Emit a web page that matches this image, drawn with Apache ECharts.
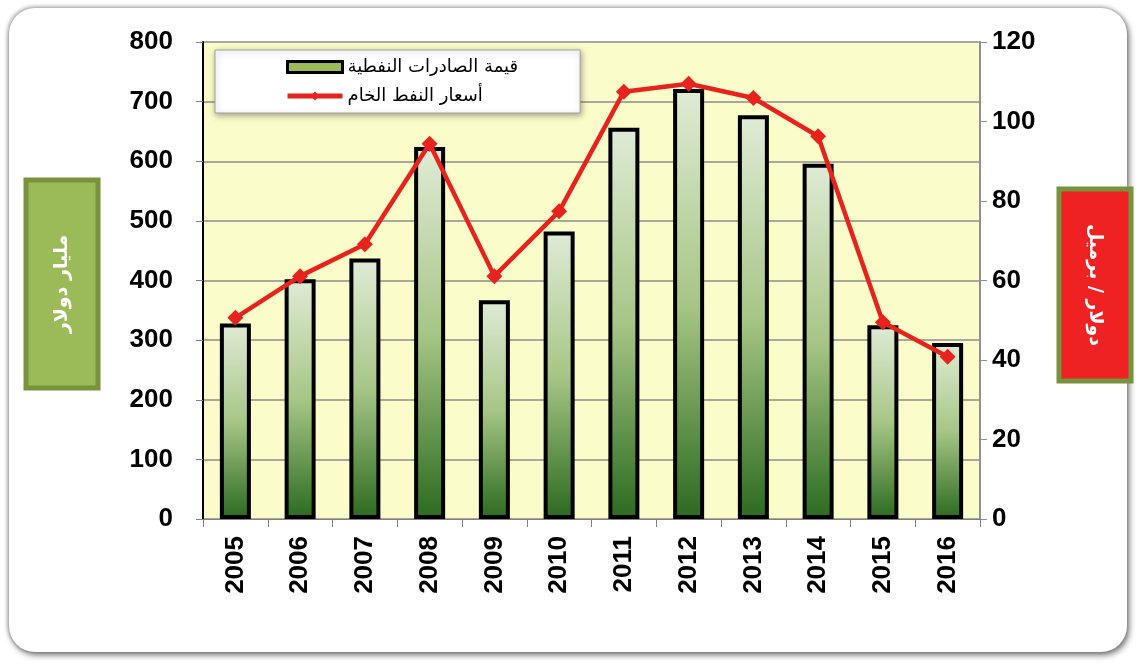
<!DOCTYPE html>
<html>
<head>
<meta charset="utf-8">
<script src="https://cdn.jsdelivr.net/npm/echarts@6/dist/echarts.min.js"></script>
<style>
  html, body { margin: 0; padding: 0; background: #ffffff; }
  .card {
    position: absolute; left: 9px; top: 8px; width: 1118px; height: 644px;
    background: #ffffff; border-radius: 26px;
    box-shadow: 2px 3px 6px rgba(0,0,0,0.55), -1px -1px 4px rgba(0,0,0,0.35);
  }
  #chart { position: absolute; left: 0; top: 0; width: 1138px; height: 664px; }
</style>
</head>
<body>
<div class="card"></div>
<div id="chart"></div>
<script>
const YEARS = ["2005","2006","2007","2008","2009","2010","2011","2012","2013","2014","2015","2016"];
const EXPORTS = [328, 402, 437, 624, 367, 482, 656, 721, 677, 596, 325, 295];
const PRICES = [50.6, 61.1, 69.1, 94.4, 61.1, 77.4, 107.5, 109.5, 105.9, 96.3, 49.5, 40.8];
const LEFT_TICKS = { min: 0, max: 800, interval: 100 };
const RIGHT_TICKS = { min: 0, max: 120, interval: 20 };

const BAR_NAME = "قيمة الصادرات النفطية";
const LINE_NAME = "أسعار النفط الخام";
const LEFT_TITLE = "مليار دولار";
const RIGHT_TITLE = "دولار / برميل";

const ARABIC = "'DejaVu Sans', 'Noto Sans', sans-serif";
const NUM = "'Liberation Sans', Arial, sans-serif";

const chart = echarts.init(document.getElementById("chart"), null, { renderer: "canvas" });

const axisLabel = { color: "#000", fontFamily: NUM, fontWeight: "bold", fontSize: 26 };

function sideBox(x, y, w, h, fill, label, rot) {
  return {
    type: "group",
    children: [
      { type: "rect", shape: { x: x, y: y, width: w, height: h },
        style: { fill: fill, stroke: "#77933c", lineWidth: 5 } },
      { type: "text", x: x + w / 2, y: y + h / 2, rotation: rot,
        style: { text: label, fill: "#fff", font: "bold 19px " + ARABIC,
          align: "center", verticalAlign: "middle" } }
    ]
  };
}

chart.setOption({
  animation: false,
  grid: { left: 203, right: 158, top: 42, bottom: 145,
    show: true, backgroundColor: "#fafcca", borderWidth: 0 },
  legend: {
    orient: "vertical", left: 215, top: 50,
    padding: [8, 62, 8, 70], itemGap: 11,
    itemWidth: 55, itemHeight: 11,
    backgroundColor: "#ffffff", borderColor: "#a0a0a0", borderWidth: 1,
    shadowColor: "rgba(0,0,0,0.35)", shadowBlur: 6, shadowOffsetX: 1, shadowOffsetY: 2,
    textStyle: { color: "#000", fontFamily: ARABIC, fontSize: 18 },
    data: [
      { name: BAR_NAME, icon: "rect",
        itemStyle: { color: "#9bbb59", borderColor: "#000", borderWidth: 3 } },
      { name: LINE_NAME, lineStyle: { width: 5 } }
    ]
  },
  xAxis: {
    type: "category", data: YEARS,
    axisLine: { lineStyle: { color: "#808080", width: 1 } },
    axisTick: { show: true, length: 8, lineStyle: { color: "#808080" } },
    axisLabel: Object.assign({ rotate: 90, margin: 17 }, axisLabel)
  },
  yAxis: [
    { type: "value", min: LEFT_TICKS.min, max: LEFT_TICKS.max, interval: LEFT_TICKS.interval,
      axisLine: { show: true, lineStyle: { color: "#000", width: 2 } },
      axisTick: { show: true, length: 7, lineStyle: { color: "#808080" } },
      splitLine: { lineStyle: { color: "#8c8c8c", width: 1.5 } },
      axisLabel: Object.assign({ margin: 30 }, axisLabel) },
    { type: "value", min: RIGHT_TICKS.min, max: RIGHT_TICKS.max, interval: RIGHT_TICKS.interval,
      axisLine: { show: true, lineStyle: { color: "#909090", width: 2 } },
      axisTick: { show: true, length: 7, lineStyle: { color: "#909090" } },
      splitLine: { show: false },
      axisLabel: Object.assign({ margin: 12 }, axisLabel) }
  ],
  series: [
    { name: BAR_NAME, type: "bar", data: EXPORTS, barWidth: 31,
      itemStyle: {
        borderColor: "#000", borderWidth: 4,
        color: { type: "linear", x: 0, y: 0, x2: 0, y2: 1,
          colorStops: [
            { offset: 0, color: "#e0ebd6" },
            { offset: 0.5, color: "#a7c686" },
            { offset: 1, color: "#2b6a1f" }
          ] }
      } },
    { name: LINE_NAME, type: "line", yAxisIndex: 1, data: PRICES,
      symbol: "diamond", symbolSize: 16,
      lineStyle: { color: "#e8231d", width: 4.5 },
      itemStyle: { color: "#e8231d" } }
  ],
  graphic: [
    sideBox(26, 180, 72, 208, "#9bbb59", LEFT_TITLE, Math.PI / 2),
    sideBox(1059, 189, 72, 192, "#ee2222", RIGHT_TITLE, -Math.PI / 2)
  ]
});
</script>
</body>
</html>
